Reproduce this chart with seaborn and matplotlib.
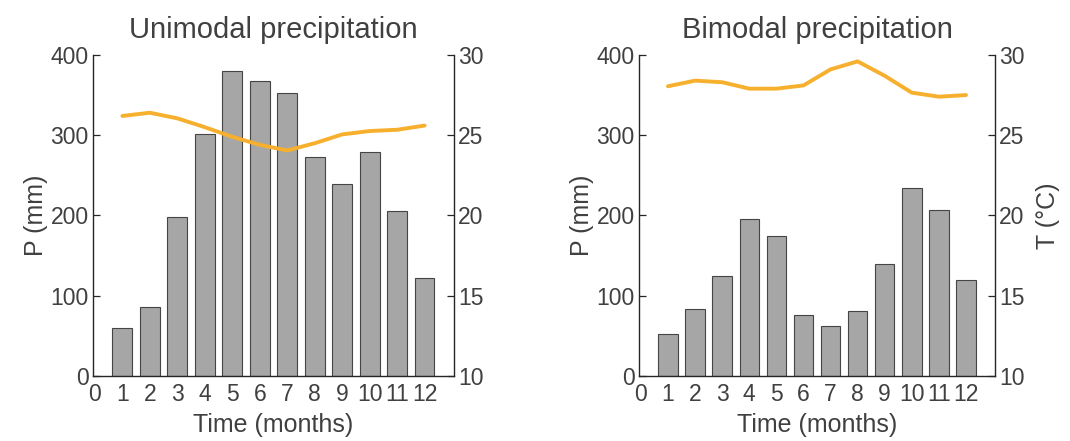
import numpy as np
import pandas as pd
import matplotlib
matplotlib.use("Agg")
import matplotlib.pyplot as plt
import seaborn as sns

months = list(range(1, 13))
tick_labels = [str(i) for i in range(0, 13)]

precip_uni = [60, 86, 198, 302, 380, 367, 353, 273, 239, 279, 206, 122]
temp_uni = [26.2, 26.4, 26.05, 25.5, 24.9, 24.4, 24.05, 24.5, 25.05, 25.26, 25.34, 25.6]

precip_bi = [52, 84, 125, 196, 175, 76, 62, 81, 139, 234, 207, 120]
temp_bi = [28.05, 28.4, 28.3, 27.9, 27.9, 28.1, 29.1, 29.6, 28.7, 27.65, 27.4, 27.5]

titles = ["Unimodal precipitation", "Bimodal precipitation"]

sns.set_theme(style="white")
plt.rcParams['font.family'] = ['Liberation Sans', 'DejaVu Sans']
TXT = '#404040'
plt.rcParams['text.color'] = TXT
plt.rcParams['axes.labelcolor'] = TXT
plt.rcParams['xtick.color'] = TXT
plt.rcParams['ytick.color'] = TXT

fig = plt.figure(figsize=(10.7, 4.41), dpi=100)
positions = [[0.0869, 0.1474, 0.3374, 0.728], [0.5972, 0.1474, 0.3327, 0.728]]

data = [(precip_uni, temp_uni), (precip_bi, temp_bi)]

for i, (pos, (P, T), title) in enumerate(zip(positions, data, titles)):
    ax = fig.add_axes(pos)
    df = pd.DataFrame({"month": months, "P": P, "T": T})
    sns.barplot(data=df, x="month", y="P", native_scale=True, width=0.72,
                color='#a6a6a6', saturation=1, edgecolor='#454545', linewidth=0.8,
                ax=ax)
    ax.set_xlim(-0.07, 13.07)
    ax.set_ylim(0, 400)
    ax.set_yticks([0, 100, 200, 300, 400])
    ax.set_xticks(range(0, 13))
    ax.set_xticklabels(tick_labels)
    ax.set_xticks([2, 4, 6, 8, 10], minor=True)
    ax.tick_params(axis='x', which='major', length=0, labelsize=16.5, pad=5)
    ax.tick_params(axis='x', which='minor', length=4, direction='in', width=0.9, color='#262626', bottom=True)
    ax.tick_params(axis='y', which='major', length=5, direction='in', width=0.9, color='#262626', labelsize=16.5, pad=3, left=True)
    for s in ['top', 'right']:
        ax.spines[s].set_visible(False)
    for s in ['left', 'bottom']:
        ax.spines[s].set_color('#262626')
        ax.spines[s].set_linewidth(1.0)
    ax.set_xlabel("Time (months)", fontsize=18, labelpad=5)
    ax.set_ylabel("P (mm)", fontsize=18, labelpad=2)
    ax.set_title(title, fontsize=21, pad=12, color=TXT)

    ax2 = ax.twinx()
    sns.lineplot(data=df, x="month", y="T", color='#F7B02E', linewidth=2.8, ax=ax2)
    ax2.set_ylim(10, 30)
    ax2.set_yticks([10, 15, 20, 25, 30])
    ax2.tick_params(axis='y', which='major', length=5, direction='in', width=0.9, color='#262626', labelsize=16.5, pad=3, right=True)
    for s in ['top', 'left', 'bottom']:
        ax2.spines[s].set_visible(False)
    ax2.spines['right'].set_color('#262626')
    ax2.spines['right'].set_linewidth(1.0)
    if i == 1:
        ax2.set_ylabel("T (°C)", fontsize=18, labelpad=8)
    else:
        ax2.set_ylabel("")

fig.savefig("out.png", dpi=100)
